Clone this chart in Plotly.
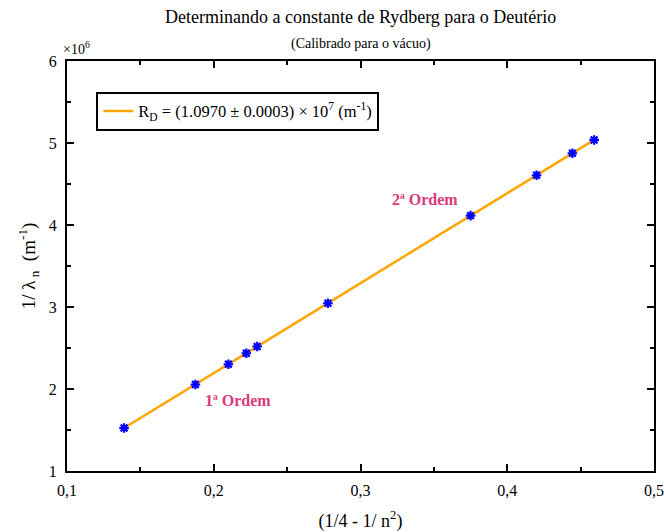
import plotly.graph_objects as go

# Balmer-line positions (1/4 - 1/n^2) for first and second diffraction orders
x_first = [0.1389, 0.1875, 0.2100, 0.2222, 0.2296]
x_second = [0.2778, 0.3750, 0.4200, 0.4444, 0.4592]
y_first = [1.524e6, 2.055e6, 2.302e6, 2.436e6, 2.518e6]
y_second = [3.046e6, 4.114e6, 4.607e6, 4.875e6, 5.037e6]

rydberg = 1.0970e7
fit_x = [0.1389, 0.4592]

y_ticks = [1e6, 2e6, 3e6, 4e6, 5e6, 6e6]
y_tick_text = ["1", "2", "3", "4", "5", "6"]

serif = "Liberation Serif"

fig = go.Figure()

fig.add_trace(go.Scatter(
    x=fit_x, y=[rydberg * v for v in fit_x], mode="lines",
    line=dict(color="#ffa500", width=2.5),
    name="R<sub>D</sub> = (1.0970 ± 0.0003) × 10<sup>7</sup> (m<sup>-1</sup>)",
))
fig.add_trace(go.Scatter(
    x=x_first + x_second, y=y_first + y_second, mode="markers",
    marker=dict(symbol="asterisk-open", size=8, color="blue",
                line=dict(color="blue", width=2.2)),
    showlegend=False,
))

axis_common = dict(
    showgrid=False, zeroline=False, showline=True, linecolor="black",
    linewidth=2, mirror="allticks", ticks="inside", ticklen=7,
    tickwidth=1.5, tickcolor="black", automargin=False,
    tickfont=dict(family=serif, size=16, color="black"),
)

fig.update_xaxes(
    range=[0.1, 0.5], tickvals=[0.1, 0.2, 0.3, 0.4, 0.5], tickformat=".1f",
    minor=dict(tickvals=[0.15, 0.25, 0.35, 0.45], ticks="inside", ticklen=4,
               tickwidth=1.5, tickcolor="black"),
    ticklabelstandoff=4,
    title=dict(text="(1/4 - 1/ n<sup>2</sup>)", standoff=20,
               font=dict(family=serif, size=18, color="black")),
    **axis_common,
)
fig.update_yaxes(
    range=[1e6, 6e6], tickvals=y_ticks, ticktext=y_tick_text,
    minor=dict(tickvals=[1.5e6, 2.5e6, 3.5e6, 4.5e6, 5.5e6], ticks="inside",
               ticklen=4, tickwidth=1.5, tickcolor="black"),
    ticklabelstandoff=5,
    title=dict(text="1/ λ<sub> n</sub>  (m<sup>-1</sup>)", standoff=8,
               font=dict(family=serif, size=19, color="black")),
    **axis_common,
)

fig.update_layout(
    width=664, height=532,
    margin=dict(l=67, r=10, t=61, b=61),
    plot_bgcolor="white", paper_bgcolor="white",
    separators=",.",
    font=dict(family=serif, color="black"),
    legend=dict(x=0.05, y=0.925, xanchor="left", yanchor="top",
                bordercolor="black", borderwidth=2, bgcolor="white",
                font=dict(family=serif, size=16.5, color="black")),
    annotations=[
        dict(text="Determinando a constante de Rydberg para o Deutério",
             xref="paper", yref="paper", x=0.5, y=1, yshift=44,
             xanchor="center", yanchor="middle", showarrow=False,
             font=dict(family=serif, size=18)),
        dict(text="(Calibrado para o vácuo)",
             xref="paper", yref="paper", x=0.5, y=1, yshift=17,
             xanchor="center", yanchor="middle", showarrow=False,
             font=dict(family=serif, size=14)),
        dict(text="×10<sup>6</sup>", xref="paper", yref="paper",
             x=0, y=1, xshift=-6, yshift=2, xanchor="left",
             yanchor="bottom", showarrow=False,
             font=dict(family=serif, size=14)),
        dict(text="<b>1ª Ordem</b>", x=0.2165, y=1.854e6, showarrow=False,
             font=dict(family=serif, size=16, color="#d93a7e")),
        dict(text="<b>2ª Ordem</b>", x=0.344, y=4.305e6, showarrow=False,
             font=dict(family=serif, size=16, color="#d93a7e")),
    ],
)

fig.write_html("out.html")
